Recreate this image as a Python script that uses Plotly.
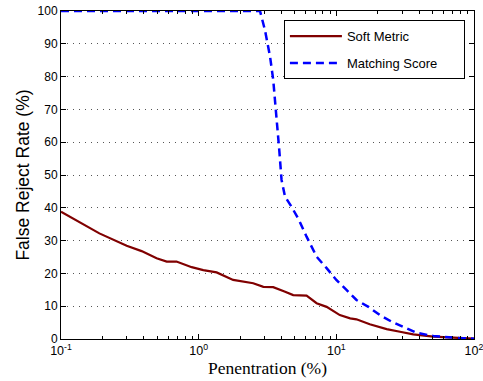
import plotly.graph_objects as go

soft_x = [0.1, 0.19, 0.30, 0.385, 0.495, 0.586, 0.69, 0.89, 1.08, 1.35, 1.78, 2.05, 2.49, 2.95, 3.48, 4.2, 4.86, 6.08, 7.19, 8.5, 10.6, 12.6, 14.0, 17.5, 23.2, 29.0, 36.2, 50.6, 66.8, 100]
soft_y = [38.8, 32.2, 28.4, 26.8, 24.6, 23.6, 23.6, 21.9, 21.0, 20.3, 18.0, 17.5, 17.0, 15.9, 15.8, 14.5, 13.4, 13.2, 10.9, 9.8, 7.3, 6.3, 6.0, 4.5, 3.0, 2.2, 1.4, 0.7, 0.4, 0.1]

match_x = [0.1, 2.79, 3.03, 3.3, 3.48, 3.68, 3.85, 4.0, 4.24, 4.73, 5.35, 6.08, 7.19, 8.5, 10.0, 11.9, 14.0, 17.1, 20.7, 25.2, 30.6, 38.3, 50.6, 63, 78, 100]
match_y = [100, 100, 94.2, 86.1, 79, 67.8, 57.6, 48.5, 43.4, 40.3, 36.3, 31.2, 25.1, 21.6, 18.0, 14.9, 11.9, 9.8, 7.3, 5.3, 3.75, 1.9, 0.9, 0.5, 0.3, 0.1]

x_tickvals = [0.1, 1, 10, 100]
x_ticktext = ["10<sup>-1</sup>", "10<sup>0</sup>", "10<sup>1</sup>", "10<sup>2</sup>"]
x_minor = [m * d for d in (0.1, 1, 10) for m in range(2, 10)]
y_tickvals = list(range(0, 101, 10))

PAD = "\u00a0" * 6  # right padding inside the legend box

fig = go.Figure()
fig.add_trace(go.Scatter(x=soft_x, y=soft_y, mode="lines", name="Soft Metric",
                         legendgroup="a",
                         line=dict(color="#800000", width=2.2)))
fig.add_trace(go.Scatter(x=match_x, y=match_y, mode="lines", name="Matching Score" + PAD,
                         legendgroup="b",
                         line=dict(color="#0000ff", width=2.5, dash="8px,5px")))

fig.update_layout(
    width=483, height=381,
    margin=dict(l=61, r=9, t=11, b=42),
    paper_bgcolor="white", plot_bgcolor="white",
    font=dict(family="Liberation Sans, Arial, sans-serif", size=12, color="black"),
    legend=dict(x=0.978, y=0.972, xanchor="right", yanchor="top",
                bordercolor="black", borderwidth=1, bgcolor="white",
                font=dict(size=13), tracegroupgap=7, traceorder="grouped",
                itemwidth=52),
    showlegend=True,
)
fig.update_xaxes(
    type="log", range=[-1, 2], tickvals=x_tickvals, ticktext=x_ticktext,
    ticks="inside", ticklen=5, tickcolor="black", showline=True, linecolor="black",
    linewidth=1, mirror="ticks", showgrid=False, zeroline=False, automargin=False,
    tickfont=dict(size=12.5), ticklabeloverflow="allow",
    minor=dict(tickvals=x_minor, ticks="inside", ticklen=3, tickcolor="black", showgrid=False),
    title=dict(text="Penentration (%)", font=dict(family="Liberation Serif, Times New Roman, serif", size=17.5), standoff=4),
)
fig.update_yaxes(
    range=[0, 100], tickvals=y_tickvals,
    ticks="inside", ticklen=5, tickcolor="black", showline=True, linecolor="black",
    linewidth=1, mirror="ticks", showgrid=True, gridcolor="#555555", griddash="1px,5px",
    gridwidth=1, zeroline=False, automargin=False, ticklabeloverflow="allow",
    title=dict(text="False Reject Rate (%)", font=dict(size=17.5), standoff=3),
)
fig.write_html("out.html", config={"displayModeBar": False},
               post_script="document.body.style.margin='0';")
